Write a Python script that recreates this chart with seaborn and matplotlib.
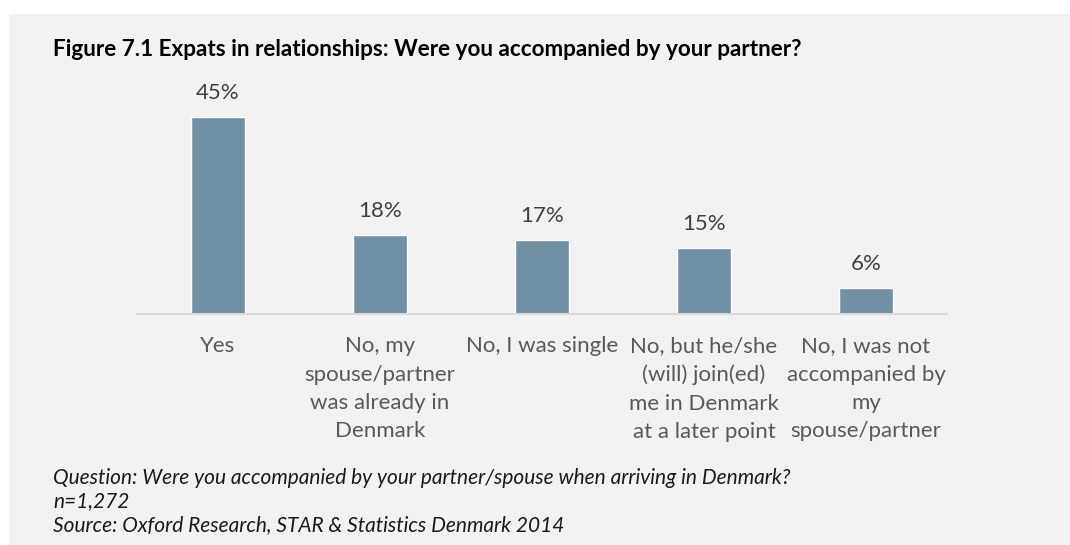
import matplotlib
matplotlib.use('Agg')
import matplotlib.pyplot as plt
import seaborn as sns
import pandas as pd
from matplotlib.patches import Rectangle

# Data
categories = ['Yes',
              'No, my\nspouse/partner\nwas already in\nDenmark',
              'No, I was single',
              'No, but he/she\n(will) join(ed)\nme in Denmark\nat a later point',
              'No, I was not\naccompanied by\nmy\nspouse/partner']
shares = [45, 18, 17, 15, 6]
value_labels = ['45%', '18%', '17%', '15%', '6%']

title = 'Figure 7.1 Expats in relationships: Were you accompanied by your partner?'
notes = ['Question: Were you accompanied by your partner/spouse when arriving in Denmark?',
         'n=1,272',
         'Source: Oxford Research, STAR & Statistics Denmark 2014']

sns.set_style('white')
plt.rcParams['font.family'] = ['Lato', 'DejaVu Sans']

W, H = 1070, 545
fig = plt.figure(figsize=(W / 100, H / 100), dpi=100, facecolor='white')

# grey panel behind the chart
fig.patches.append(Rectangle((9 / W, 0), 1 - 9 / W, 1 - 14 / H,
                             transform=fig.transFigure, facecolor='#f2f2f2',
                             edgecolor='none', zorder=-10))

ax_left, ax_right, ax_bottom, ax_top = 137, 947, 314, 80
ax = fig.add_axes([ax_left / W, 1 - ax_bottom / H,
                   (ax_right - ax_left) / W, (ax_bottom - ax_top) / H])
ax.set_facecolor('none')

df = pd.DataFrame({'category': categories, 'share': shares})
sns.barplot(data=df, x='category', y='share', color='#7290a3', width=0.33,
            saturation=1, ax=ax)

ax.set_ylim(0, (ax_bottom - ax_top) / 4.38)
ax.set_xlim(-0.5, len(categories) - 0.5)

for i, (v, lab) in enumerate(zip(shares, value_labels)):
    ax.annotate(lab, (i, v), xytext=(0, 10), textcoords='offset points',
                ha='center', va='bottom', fontsize=16, color='#404040')

sns.despine(ax=ax, left=True, top=True, right=True)
ax.spines['bottom'].set_color('#d9d9d9')
ax.spines['bottom'].set_linewidth(1.5)
ax.set_yticks([])
ax.set_xlabel('')
ax.set_ylabel('')
ax.tick_params(axis='x', length=0, pad=16, labelsize=16, labelcolor='#595959')
for t in ax.get_xticklabels():
    t.set_linespacing(1.52)
    t.set_verticalalignment('top')

fig.text(53 / W, 1 - 50 / H, title, fontsize=16.2, fontweight='bold',
         color='black', va='center', ha='left')

for k, line in enumerate(notes):
    fig.text(53 / W, 1 - (478 + 23.5 * k) / H, line, fontsize=15,
             style='italic', color='#1a1a1a', va='center', ha='left')

fig.savefig('out.png', dpi=100, facecolor=fig.get_facecolor())
